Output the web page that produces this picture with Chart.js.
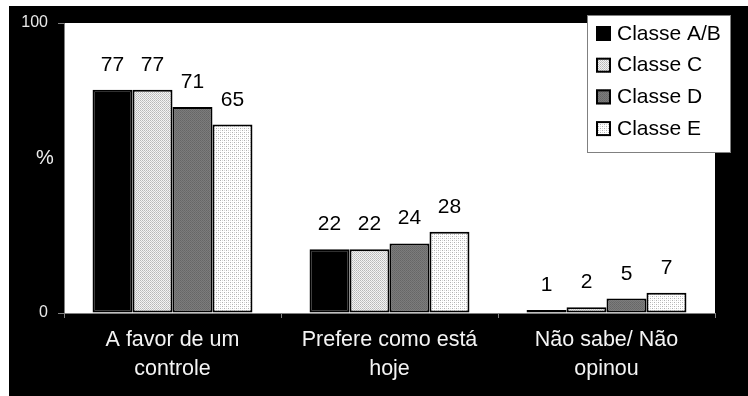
<!DOCTYPE html>
<html><head><meta charset="utf-8">
<script src="https://cdn.jsdelivr.net/npm/chart.js@4/dist/chart.umd.min.js"></script>
<style>html,body{margin:0;padding:0;background:#fff}#wrap{width:748px;height:396px}</style>
</head><body><div id="wrap"><canvas id="c" width="748" height="396"></canvas></div>
<script>
const categories = [["A favor de um","controle"],["Prefere como está","hoje"],["Não sabe/ Não","opinou"]];
const seriesNames = ["Classe A/B","Classe C","Classe D","Classe E"];
const classeAB = [77,22,1];
const classeC = [77,22,2];
const classeD = [71,24,5];
const classeE = [65,28,7];
const yTicks = [0,100];

function pat(size, bg, dots){
  const c=document.createElement('canvas');c.width=size;c.height=size;
  const x=c.getContext('2d');x.fillStyle=bg;x.fillRect(0,0,size,size);
  dots.forEach(d=>{x.fillStyle=d[2];x.fillRect(d[0],d[1],1,1);});
  return x.createPattern(c,'repeat');
}
const ctx0=document.getElementById('c').getContext('2d');
const fills=[
  '#000000',
  pat(2,'#f4f4f4',[[0,0,'#b8b8b8'],[1,1,'#c8c8c8']]),
  pat(2,'#7c7c7c',[[0,0,'#666666'],[1,1,'#6c6c6c']]),
  pat(4,'#ffffff',[[0,0,'#b0b0b0'],[2,2,'#b0b0b0'],[2,0,'#d8d8d8'],[0,2,'#d8d8d8']])
];
const seriesValues=[classeAB,classeC,classeD,classeE];

const bgPlugin={id:'bg',beforeDraw(ch){
  const c=ch.ctx,a=ch.chartArea;
  c.save();c.fillStyle='#fff';c.fillRect(0,0,ch.width,ch.height);
  c.fillStyle='#000';c.fillRect(9,6,ch.width-9,ch.height-6);
  c.fillStyle='#fff';c.fillRect(a.left,a.top,a.right-a.left,a.bottom-a.top);
  c.restore();
}};
const labelPlugin={id:'lbl',afterDatasetsDraw(ch){
  const c=ch.ctx;c.save();
  c.font='21px "Liberation Sans", Arial, sans-serif';c.fillStyle='#000';c.textAlign='center';c.textBaseline='alphabetic';
  ch.data.datasets.forEach((ds,i)=>{
    ch.getDatasetMeta(i).data.forEach((el,j)=>{
      c.fillText(String(ds.data[j]),el.x,el.y-19);
    });
  });
  c.restore();
}};
const extraPlugin={id:'extra',afterDraw(ch){
  const c=ch.ctx;c.save();
  // y axis title
  c.font='20px "Liberation Sans", Arial, sans-serif';c.fillStyle='#eee';c.textAlign='center';c.textBaseline='middle';
  c.fillText('%',45,158);
  // legend
  const lx=587,ly=15,lw=144,lh=138;
  c.fillStyle='#fff';c.fillRect(lx,ly,lw,lh);
  c.strokeStyle='#808080';c.lineWidth=1;c.strokeRect(lx+0.5,ly+0.5,lw-1,lh-1);
  c.font='21px "Liberation Sans", Arial, sans-serif';c.textAlign='left';c.textBaseline='middle';
  ch.data.datasets.forEach((ds,i)=>{
    const cy=33+i*31.7;
    c.fillStyle=ds.backgroundColor;c.fillRect(596,cy-7,15,15);
    c.strokeStyle='#000';c.lineWidth=2;c.strokeRect(597,cy-6,13,13);
    c.fillStyle='#000';c.fillText(ds.label,617,cy+1);
  });
  c.restore();
}};

new Chart(ctx0,{
  type:'bar',
  data:{labels:categories,datasets:seriesNames.map((n,i)=>({label:n,data:seriesValues[i],backgroundColor:fills[i],borderColor:'#000',borderWidth:2,borderSkipped:false,categoryPercentage:0.737,barPercentage:1}))},
  options:{
    responsive:false,animation:false,devicePixelRatio:1,
    layout:{padding:{left:0,top:23,right:33,bottom:0}},
    plugins:{legend:{display:false},tooltip:{enabled:false}},
    scales:{
      x:{grid:{drawOnChartArea:false,color:'#808080',tickLength:5,offset:true},border:{color:'#808080'},
        ticks:{color:'#f4f4f4',font:{family:'"Liberation Sans", Arial, sans-serif',size:21.5,lineHeight:1.35},padding:8,maxRotation:0},
        afterFit:s=>{s.height=83;}},
      y:{min:0,max:100,grid:{drawOnChartArea:false,color:'#808080',tickLength:6},border:{color:'#808080'},
        afterBuildTicks:s=>{s.ticks=yTicks.map(v=>({value:v}));},
        ticks:{color:'#e8e8e8',font:{family:'"Liberation Sans", Arial, sans-serif',size:16},padding:10},
        afterFit:s=>{s.width=64;}}
    }
  },
  plugins:[bgPlugin,labelPlugin,extraPlugin]
});
</script></body></html>
